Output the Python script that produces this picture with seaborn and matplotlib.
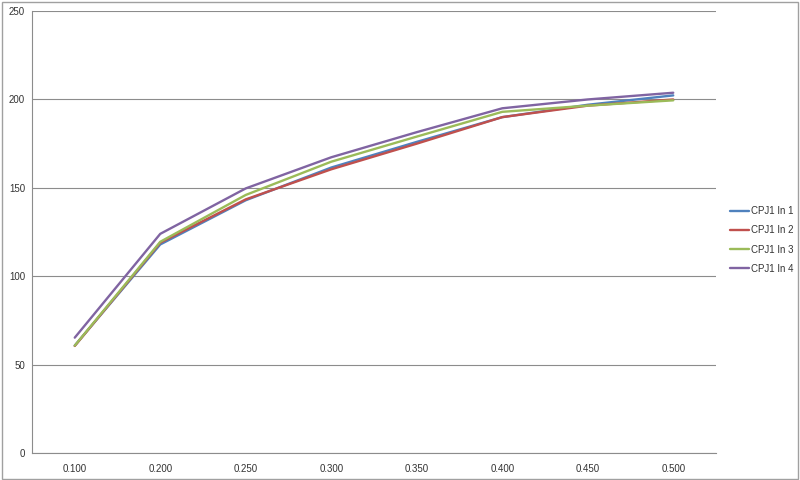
import pandas as pd
import seaborn as sns
import matplotlib.pyplot as plt
from matplotlib.patches import Rectangle

x_labels = ["0.100", "0.200", "0.250", "0.300", "0.350", "0.400", "0.450", "0.500"]
in1 = [60.8, 118.0, 143.0, 161.5, 176.0, 190.0, 197.0, 202.3]
in2 = [60.6, 119.0, 143.5, 160.5, 175.0, 190.0, 196.5, 200.0]
in3 = [60.8, 119.5, 146.0, 164.8, 179.0, 193.0, 196.5, 199.5]
in4 = [65.3, 124.0, 149.7, 167.3, 181.5, 195.0, 200.0, 203.8]
series_names = ["CPJ1 In 1", "CPJ1 In 2", "CPJ1 In 3", "CPJ1 In 4"]
colors = ["#4F81BD", "#C0504D", "#9BBB59", "#8064A2"]

rows = []
for name, vals in zip(series_names, [in1, in2, in3, in4]):
    for lab, v in zip(x_labels, vals):
        rows.append({"x": lab, "value": v, "series": name})
df = pd.DataFrame(rows)

sns.set_style("white")
plt.rcParams['font.family'] = ['Liberation Sans', 'DejaVu Sans']

fig = plt.figure(figsize=(8, 4.8), dpi=100)
ax = fig.add_axes([0.04, 0.056, 0.855, 0.921])

sns.lineplot(data=df, x="x", y="value", hue="series", palette=colors,
             linewidth=1.7, sort=False, ax=ax)

ax.set_xlim(-0.5, len(x_labels) - 0.5)
ax.set_ylim(0, 250)
ax.set_yticks(range(0, 251, 50))
ax.set_xticks(range(len(x_labels)))
ax.set_xticklabels(x_labels)
ax.set_xticks([i + 0.5 for i in range(-1, len(x_labels))], minor=True)
ax.tick_params(axis="x", which="major", length=0, pad=8, labelsize=7, colors="#333333")
ax.tick_params(axis="x", which="minor", length=4, color="#888888", width=0.8, direction="out")
ax.tick_params(axis="y", length=4, width=0.8, direction="out",
               labelsize=7, colors="#333333", pad=1)
ax.tick_params(axis="y", color="#888888")
ax.set_xlabel("")
ax.set_ylabel("")
ax.grid(axis="y", color="#8c8c8c", linewidth=0.8)
for side in ["top", "right"]:
    ax.spines[side].set_visible(False)
for side in ["left", "bottom"]:
    ax.spines[side].set_color("#8c8c8c")
    ax.spines[side].set_linewidth(0.8)

leg = ax.legend(loc="center left", bbox_to_anchor=(0.912, 0.5),
                bbox_transform=fig.transFigure, frameon=False,
                fontsize=7, handlelength=2.0, handletextpad=0.15, labelspacing=0.95,
                borderpad=0, borderaxespad=0)
for line in leg.get_lines():
    line.set_linewidth(1.7)
for t in leg.get_texts():
    t.set_color("#333333")

fig.patches.append(Rectangle((0.002, 0.003), 0.996, 0.993, transform=fig.transFigure,
                             fill=False, edgecolor="#a0a0a0", linewidth=1))

fig.savefig("out.png", dpi=100)
plt.close()
